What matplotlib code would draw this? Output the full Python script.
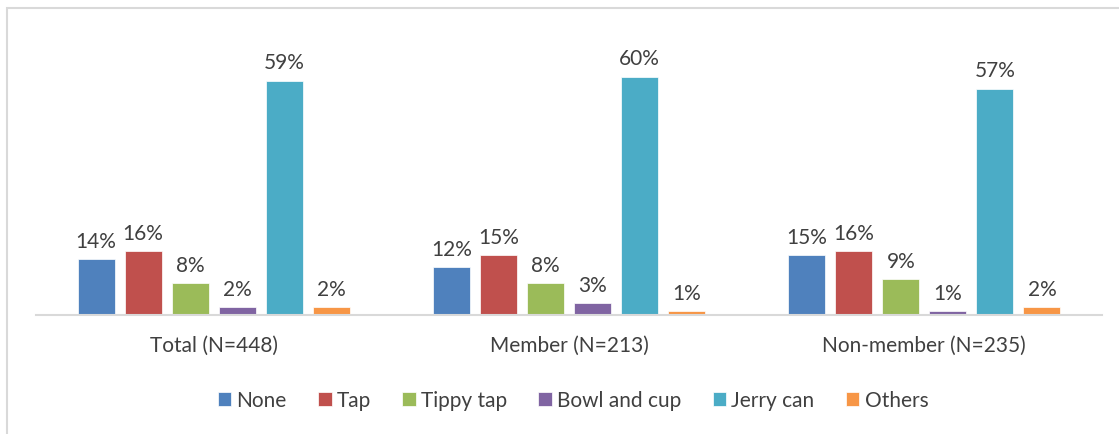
import matplotlib
matplotlib.use("Agg")
import matplotlib.pyplot as plt
from matplotlib.patches import Rectangle
import numpy as np

categories = ["Total (N=448)", "Member (N=213)", "Non-member (N=235)"]
series_names = ["None", "Tap", "Tippy tap", "Bowl and cup", "Jerry can", "Others"]
none_vals = [14, 12, 15]
tap_vals = [16, 15, 16]
tippy_vals = [8, 8, 9]
bowl_vals = [2, 3, 1]
jerry_vals = [59, 60, 57]
others_vals = [2, 1, 2]
series_values = [none_vals, tap_vals, tippy_vals, bowl_vals, jerry_vals, others_vals]
colors = ["#4F81BD", "#C0504D", "#9BBB59", "#8064A2", "#4BACC6", "#F79646"]

plt.rcParams['font.family'] = ['Lato', 'DejaVu Sans']
W, H = 1119, 435
fig = plt.figure(figsize=(W / 100, H / 100), dpi=100)

# outer chart border (light gray), partially cropped at right/bottom
fig.add_artist(Rectangle((7 / W, -0.1), 1.2, (H - 9) / H + 0.1, transform=fig.transFigure,
                         fill=False, edgecolor="#d9d9d9", linewidth=1.5))

left, right, bottom, top = 36, 1102, 316, 20
ax = fig.add_axes([left / W, 1 - bottom / H, (right - left) / W, (bottom - top) / H])
ax.set_xlim(-0.5, 2.5)
ax.set_ylim(0, 74.5)

x = np.arange(len(categories))
step = 47 / 355
width = 37 / 355
text_color = "#404040"
fs = 15
for i, (name, vals, c) in enumerate(zip(series_names, series_values, colors)):
    pos = x + (i - 2.5) * step
    ax.bar(pos, vals, width=width, color=c, label=name, edgecolor="white", linewidth=0.5)
    for p, v in zip(pos, vals):
        ax.annotate(f"{v}%", (p, v), xytext=(0, 6), textcoords="offset points",
                    ha="center", va="bottom", fontsize=fs, color=text_color)

for s in ["top", "right", "left"]:
    ax.spines[s].set_visible(False)
ax.spines["bottom"].set_color("#d9d9d9")
ax.spines["bottom"].set_linewidth(1.5)
ax.set_yticks([])
ax.set_xticks(x)
ax.set_xticklabels(categories, fontsize=fs, color=text_color)
ax.tick_params(axis="x", length=0, pad=14)

handles, labels = ax.get_legend_handles_labels()
fig.legend(handles, labels, loc="center", bbox_to_anchor=(573 / W, 1 - 401 / H), ncol=6,
           frameon=False, fontsize=fs, labelcolor=text_color, handlelength=0.65,
           handleheight=0.65, handletextpad=0.25, columnspacing=1.5)

fig.savefig("out.png", dpi=100)
